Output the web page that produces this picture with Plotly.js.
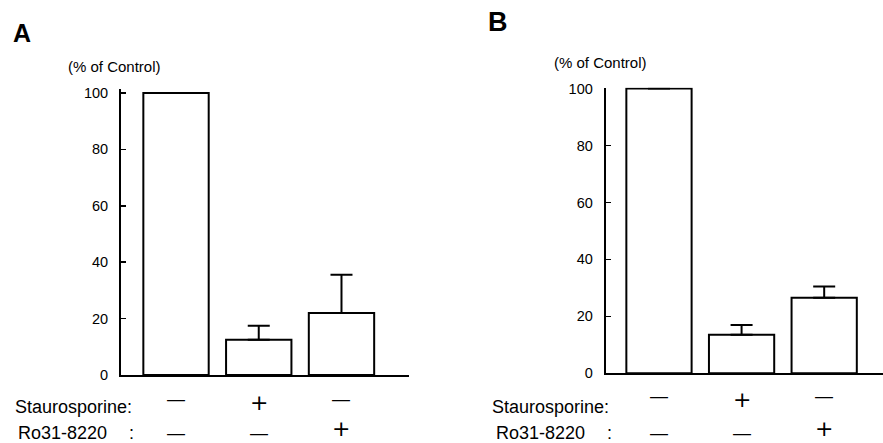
<!DOCTYPE html>
<html>
<head>
<meta charset="utf-8">
<script src="https://cdn.plot.ly/plotly-3.0.1.min.js"></script>
<style>html,body{margin:0;padding:0;background:#fff;}#chart{width:883px;height:443px;}</style>
</head>
<body>
<div id="chart"></div>
<script>
// ---- data ----
var categories = [0, 1, 2];
var valuesA = [100, 12.5, 22];
var errorsA = [0, 5, 13.5];
var valuesB = [100, 13.5, 26.5];
var errorsB = [0, 3.5, 4];
var staurosporine = ['-', '+', '-'];
var ro318220 = ['-', '-', '+'];
var yTicks = [0, 20, 40, 60, 80, 100];
var panelLabels = ['A', 'B'];
var yUnit = '(% of Control)';

var FONT = 'Liberation Sans, Arial, Helvetica, sans-serif';
var SYMFONT = 'DejaVu Sans, Liberation Sans, sans-serif';
var W = 883, H = 443;
function py(p) { return 1 - p / H; }
function px(p) { return p / W; }

function barTrace(vals, errs, xa, ya) {
  return {
    type: 'bar', x: categories, y: vals, xaxis: xa, yaxis: ya,
    width: 0.79,
    marker: {color: '#ffffff', line: {color: '#000', width: 2}},
    error_y: {type: 'data', symmetric: false, array: errs,
      arrayminus: errs.map(function () { return 0; }),
      color: '#000', thickness: 2, width: 11},
    hoverinfo: 'none', showlegend: false
  };
}

var data = [barTrace(valuesA, errorsA, 'x', 'y'), barTrace(valuesB, errorsB, 'x2', 'y2')];

function yAxis(domain, top, anchor) {
  return {
    domain: domain, range: [0, top], anchor: anchor,
    tickvals: yTicks, ticks: 'inside', ticklen: 5, tickwidth: 1.5, tickcolor: '#000',
    showline: true, linecolor: '#000', linewidth: 2, showgrid: false, zeroline: false,
    tickfont: {family: FONT, size: 14.5, color: '#000'}, ticklabelstandoff: 8,
    fixedrange: true
  };
}
function xAxis(domain, range, anchor) {
  return {
    domain: domain, range: range, anchor: anchor,
    showline: true, linecolor: '#000', linewidth: 2, showgrid: false, zeroline: false,
    showticklabels: false, ticks: '', fixedrange: true
  };
}

var annotations = [];
function addText(text, x, y, size, xanchor, xref, family, yanchor) {
  annotations.push({text: text, x: x, y: y, xref: xref || 'paper', yref: 'paper',
    xanchor: xanchor || 'left', yanchor: yanchor || 'middle', showarrow: false,
    font: {family: family || FONT, size: size, color: '#000'}});
}
function sym(s) { return s === '+' ? '+' : '\u2014'; }
function symSize(s) { return s === '+' ? 22 : 18; }
function symFont(s) { return s === '+' ? SYMFONT : FONT; }

// panel labels
addText('<b>' + panelLabels[0] + '</b>', px(11), py(33), 25);
addText('<b>' + panelLabels[1] + '</b>', px(486), py(22), 27);
// unit labels
addText(yUnit, px(66), py(67), 15);
addText(yUnit, px(552), py(62), 15);
// row labels
addText('Staurosporine:', px(13), py(407), 18);
addText('Ro31-8220', px(16), py(433), 18);
addText(':', px(127), py(433), 18);
addText('Staurosporine:', px(490), py(407), 18);
addText('Ro31-8220', px(494), py(433), 18);
addText(':', px(605), py(433), 18);

categories.forEach(function (c, i) {
  var s1 = staurosporine[i], s2 = ro318220[i];
  addText(sym(s1), c, py(s1 === '+' ? 402 : 399), symSize(s1), 'center', 'x', symFont(s1));
  addText(sym(s1), c, py(s1 === '+' ? 399 : 396), symSize(s1), 'center', 'x2', symFont(s1));
  if (s2 === '+') {
    addText(sym(s2), c, 0, symSize(s2), 'center', 'x', symFont(s2), 'bottom');
    addText(sym(s2), c, 0, symSize(s2), 'center', 'x2', symFont(s2), 'bottom');
  } else {
    addText(sym(s2), c, py(433), symSize(s2), 'center', 'x', symFont(s2));
    addText(sym(s2), c, py(433), symSize(s2), 'center', 'x2', symFont(s2));
  }
});

var layout = {
  width: W, height: H,
  margin: {l: 0, r: 0, t: 0, b: 0},
  paper_bgcolor: '#fff', plot_bgcolor: '#fff',
  showlegend: false, bargap: 0,
  xaxis: xAxis([px(121), px(409)], [-0.665, 2.816], 'y'),
  yaxis: yAxis([py(375), py(89)], 101.4, 'x'),
  xaxis2: xAxis([px(605.7), 1], [-0.645, 2.712], 'y2'),
  yaxis2: yAxis([py(373.3), py(87.7)], 100.3, 'x2'),
  annotations: annotations
};

Plotly.newPlot('chart', data, layout, {displayModeBar: false, staticPlot: true});
</script>
</body>
</html>
